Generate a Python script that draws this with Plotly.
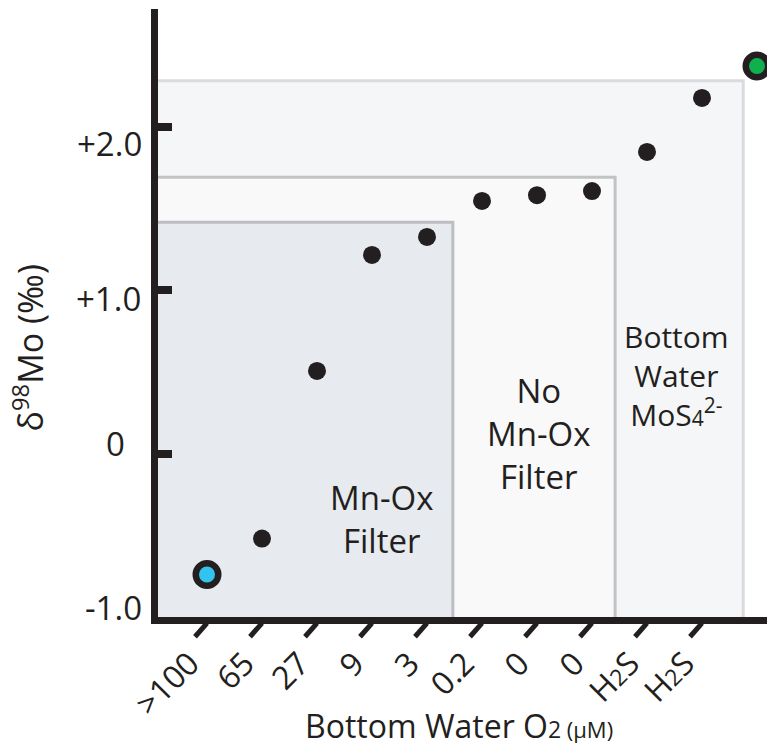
import plotly.graph_objects as go

# Bottom-water O2 class (µM) for each sample; the last one is the sulfidic end member
o2_labels = [">100", "65", "27", "9", "3", "0.2", "0", "0", "H2S", "H2S", ""]
# Sediment δ98Mo (‰)
d98mo = [-0.74, -0.52, 0.505, 1.215, 1.325, 1.545, 1.58, 1.605, 1.845, 2.175, 2.37]
# Sample kind: oxic end member, sediment, euxinic end member
sample_kind = ["oxic"] + ["sediment"] * 9 + ["euxinic"]

# Nested regions: label, right edge (sample index units), top edge (‰)
region_labels = [
    "Mn-Ox<br>Filter",
    "No<br>Mn-Ox<br>Filter",
    "Bottom<br>Water<br>MoS<span style='font-size:21px'>4</span><sup>2-</sup>",
]
region_right = [4.47, 7.42, 9.75]
region_top = [1.415, 1.69, 2.28]

# y-axis ticks
ytick_vals = [2, 1, 0, -1]
ytick_text = ["+2.0", "+1.0", "0", "-1.0"]

INK = "#231f20"
FONT = "Open Sans"
x_pos = list(range(len(o2_labels)))
x_range = [-0.891, 10.182]
y_range = [-1.0, 2.719]


def fmt_label(s):
    return s.replace("H2S", "H<span style='font-size:23px'>2</span>S")


fig = go.Figure()

# Marker styles per sample kind
kind_style = {
    "sediment": dict(size=18, color=INK, line=dict(width=0)),
    "oxic": dict(size=22.5, color="#33c3ef", line=dict(width=6.5, color=INK)),
    "euxinic": dict(size=22.5, color="#10b04f", line=dict(width=6.5, color=INK)),
}
for kind, style in kind_style.items():
    xs = [x for x, k in zip(x_pos, sample_kind) if k == kind]
    ys = [y for y, k in zip(d98mo, sample_kind) if k == kind]
    fig.add_trace(go.Scatter(x=xs, y=ys, mode="markers", marker=style,
                             cliponaxis=False, showlegend=False, hoverinfo="skip"))

# Shaded nested regions, outermost first
fills = ["#e7eaee", "#f9f9f9", "#f5f6f8"]
edges = ["#bcbec1", "#c1c3c5", "#d9dbde"]
shapes = []
for k in reversed(range(len(region_labels))):
    shapes.append(dict(type="rect", xref="x", yref="y", layer="below",
                       x0=x_range[0] - 1, x1=region_right[k],
                       y0=y_range[0] - 1, y1=region_top[k],
                       fillcolor=fills[k], line=dict(color=edges[k], width=3)))

# Slanted tick marks under each labelled sample
for x, lab in zip(x_pos, o2_labels):
    if lab:
        shapes.append(dict(type="line", xref="x", yref="paper", layer="above",
                           x0=x, y0=-0.0099, x1=x - 0.218, y1=-0.0325,
                           line=dict(color=INK, width=5)))

annotations = []
# Region labels
region_anchor = [(3.18, -0.40, 33), (6.02, 0.12, 33), (8.54, 0.48, 30)]
for lab, (ax_, ay_, fs) in zip(region_labels, region_anchor):
    annotations.append(dict(x=ax_, y=ay_, xref="x", yref="y", text=lab, showarrow=False,
                            font=dict(family=FONT, size=fs, color=INK), align="center"))

# y tick labels
ytick_shift = [(-14, -17), (-15, -8), (-31, 10), (-14, 10)]
for v, t, (dx, dy) in zip(ytick_vals, ytick_text, ytick_shift):
    annotations.append(dict(x=0, y=v, xref="paper", yref="y", text=t, showarrow=False,
                            xanchor="right", yanchor="middle", xshift=dx, yshift=dy,
                            font=dict(family=FONT, size=33, color=INK)))

# Axis titles
annotations.append(dict(
    x=0.494, y=0, xref="paper", yref="paper", xanchor="center", yanchor="middle",
    yshift=-108,
    text="Bottom Water O<span style='font-size:23px'>2</span>"
         "<span style='font-size:22px'> (µM)</span>",
    showarrow=False, font=dict(family=FONT, size=32, color=INK)))
annotations.append(dict(
    x=-0.205, y=0.442, xref="paper", yref="paper", xanchor="center", yanchor="middle",
    xshift=-5, textangle=-90, text="δ<sup>98</sup>Mo (‰)", showarrow=False,
    font=dict(family=FONT, size=34, color=INK)))

fig.update_layout(
    width=767, height=746,
    margin=dict(l=158, r=0, t=9, b=129),
    paper_bgcolor="white", plot_bgcolor="white",
    shapes=shapes, annotations=annotations,
    xaxis=dict(range=x_range, tickmode="array", tickvals=x_pos,
               ticktext=[fmt_label(s) for s in o2_labels],
               tickangle=-45, ticks="", showgrid=False, zeroline=False,
               ticklabelstandoff=8, ticklabelshift=-17,
               showline=True, linecolor=INK, linewidth=7,
               tickfont=dict(family=FONT, size=32, color=INK)),
    yaxis=dict(range=y_range, tickmode="array", tickvals=ytick_vals,
               showticklabels=False, ticks="inside", ticklen=14, tickwidth=8,
               tickcolor=INK, showgrid=False, zeroline=False,
               showline=True, linecolor=INK, linewidth=7),
)

fig.write_html("out.html")
